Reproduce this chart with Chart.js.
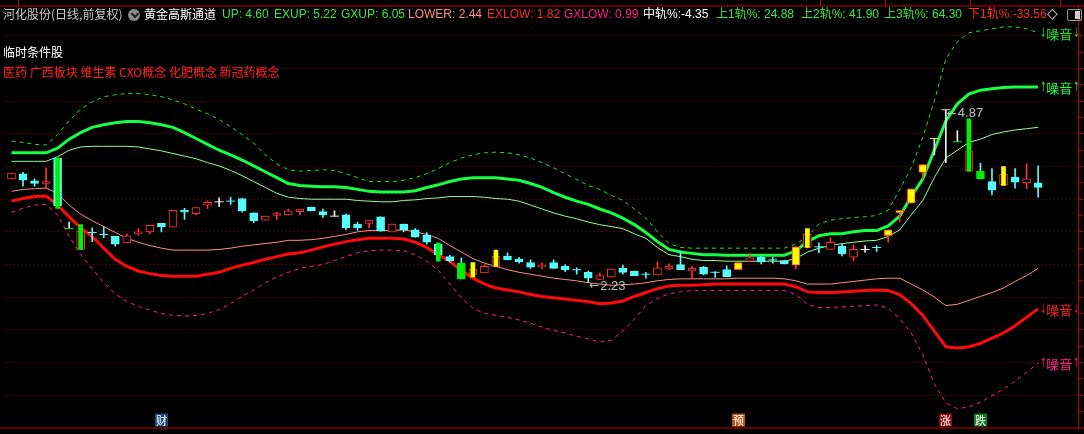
<!DOCTYPE html>
<html><head><meta charset="utf-8">
<script src="https://cdn.jsdelivr.net/npm/chart.js@4.4.1/dist/chart.umd.min.js"></script>
<style>
html,body{margin:0;padding:0;background:#000;}
#wrap{position:relative;width:1084px;height:434px;overflow:hidden;background:#000;}
#c{position:absolute;left:0;top:0;}
.t{position:absolute;top:7px;font:12px/14px "Liberation Sans","Noto Sans CJK SC",sans-serif;white-space:nowrap;}
.cn{font-family:"Noto Sans CJK SC",sans-serif;}
</style></head><body>
<div id="wrap">
<canvas id="c" width="1084" height="434"></canvas>
<div id="hdr"></div>
</div>
<script>
// ---- candles (daily OHLC) ----
const open = [3.81,3.89,3.78,3.74,4.13,3.05,2.73,2.99,2.96,2.93,
2.83,2.97,3.00,3.13,3.07,3.33,3.28,3.41,3.46,3.47,
3.51,3.29,3.18,3.25,3.26,3.31,3.38,3.31,3.24,3.26,
3.12,3.13,3.23,3.00,3.12,3.03,2.95,2.81,2.62,2.52,
2.34,2.37,2.47,2.63,2.58,2.53,2.46,2.53,2.47,2.42,
2.38,2.27,2.31,2.44,2.40,2.35,2.34,2.43,2.50,2.40,
2.46,2.38,2.42,2.42,2.55,2.61,2.57,2.56,2.49,2.76,
2.77,2.73,2.78,2.61,2.73,2.76,2.94,3.29,3.44,3.91,
4.43,4.87,4.38,3.93,3.93,3.77,3.72,3.84,3.75,3.75];
const high = [3.90,3.91,3.81,3.98,4.13,3.15,3.01,3.06,3.08,2.93,
2.97,3.05,3.10,3.13,3.33,3.36,3.37,3.47,3.52,3.53,
3.51,3.29,3.24,3.30,3.35,3.35,3.38,3.35,3.32,3.27,
3.15,3.18,3.23,3.12,3.12,3.05,2.99,2.81,2.64,2.60,
2.43,2.50,2.63,2.68,2.61,2.57,2.52,2.57,2.50,2.45,
2.40,2.37,2.43,2.49,2.40,2.38,2.54,2.51,2.71,2.47,
2.47,2.39,2.48,2.53,2.67,2.63,2.61,2.56,2.77,2.96,
2.83,2.91,2.81,2.80,2.79,2.79,3.03,3.33,3.66,4.03,
4.43,4.87,4.55,4.24,4.05,3.97,3.88,3.97,4.04,4.01];
const low = [3.81,3.70,3.70,3.67,3.40,3.05,2.73,2.85,2.91,2.78,
2.83,2.95,2.97,3.00,3.07,3.19,3.26,3.36,3.39,3.42,
3.30,3.14,3.18,3.19,3.26,3.26,3.32,3.22,3.24,3.03,
3.02,3.06,3.01,3.00,3.00,2.92,2.81,2.65,2.54,2.28,
2.34,2.37,2.47,2.57,2.52,2.44,2.44,2.44,2.39,2.35,
2.23,2.27,2.31,2.35,2.33,2.29,2.34,2.42,2.42,2.29,
2.34,2.30,2.31,2.42,2.55,2.51,2.52,2.51,2.43,2.76,
2.68,2.73,2.63,2.56,2.69,2.70,2.84,3.16,3.44,3.81,
4.18,4.06,4.38,3.93,3.81,3.57,3.72,3.67,3.66,3.53];
const close = [3.90,3.79,3.74,3.77,3.40,3.05,3.01,2.99,2.96,2.81,
2.94,3.00,3.10,3.08,3.33,3.30,3.37,3.45,3.46,3.47,
3.32,3.17,3.24,3.28,3.32,3.35,3.32,3.26,3.24,3.06,
3.06,3.18,3.01,3.12,3.03,2.92,2.84,2.65,2.56,2.28,
2.43,2.47,2.63,2.57,2.54,2.46,2.49,2.44,2.42,2.42,
2.29,2.33,2.43,2.38,2.33,2.35,2.45,2.47,2.42,2.44,
2.35,2.38,2.31,2.53,2.60,2.54,2.57,2.51,2.77,2.96,
2.77,2.84,2.66,2.73,2.73,2.76,3.03,3.33,3.66,4.03,
4.43,4.87,4.38,4.24,3.81,3.64,3.88,3.76,3.81,3.68];

// ---- 黄金高斯通道 lines ----
const upLine = [4.08,4.08,4.08,4.08,4.15,4.25,4.30,4.31,4.31,4.31,
4.31,4.30,4.27,4.24,4.20,4.16,4.12,4.06,4.01,3.94,
3.86,3.77,3.68,3.59,3.53,3.51,3.50,3.50,3.50,3.50,
3.48,3.47,3.46,3.46,3.48,3.49,3.51,3.52,3.54,3.54,
3.54,3.53,3.51,3.50,3.47,3.41,3.35,3.29,3.24,3.20,
3.15,3.11,3.08,3.05,2.97,2.90,2.76,2.65,2.62,2.58,
2.56,2.56,2.55,2.55,2.55,2.55,2.55,2.55,2.59,2.69,
2.75,2.79,2.82,2.84,2.86,2.87,2.93,3.03,3.26,3.48,
3.83,4.13,4.25,4.37,4.42,4.49,4.53,4.56,4.58,4.60];
const exUp = [4.21,4.21,4.21,4.21,4.28,4.42,4.52,4.60,4.64,4.67,
4.69,4.69,4.67,4.64,4.60,4.52,4.43,4.34,4.25,4.18,
4.10,4.01,3.92,3.83,3.74,3.71,3.70,3.69,3.69,3.68,
3.65,3.62,3.61,3.61,3.61,3.63,3.68,3.72,3.77,3.81,
3.83,3.83,3.83,3.81,3.79,3.74,3.68,3.60,3.53,3.47,
3.42,3.35,3.29,3.21,3.11,2.99,2.85,2.73,2.69,2.67,
2.65,2.65,2.64,2.64,2.64,2.64,2.64,2.64,2.71,2.85,
2.94,2.97,2.97,3.00,3.02,3.02,3.09,3.24,3.54,3.81,
4.25,4.70,4.96,5.11,5.17,5.19,5.21,5.22,5.22,5.22];
const gxUp = [4.39,4.37,4.34,4.33,4.49,4.70,4.88,4.99,5.07,5.10,
5.12,5.12,5.10,5.07,5.02,4.96,4.88,4.81,4.72,4.61,
4.49,4.36,4.18,4.04,3.95,3.93,3.94,3.95,3.94,3.89,
3.83,3.77,3.77,3.77,3.79,3.83,3.89,3.97,4.06,4.13,
4.18,4.21,4.22,4.21,4.18,4.13,4.06,3.98,3.89,3.80,
3.71,3.65,3.56,3.48,3.35,3.21,3.00,2.82,2.76,2.75,
2.75,2.75,2.75,2.75,2.75,2.75,2.75,2.75,2.81,2.93,
3.12,3.18,3.20,3.22,3.23,3.25,3.33,3.65,3.98,4.45,
5.00,5.65,5.91,6.05,6.08,6.11,6.14,6.14,6.11,6.05];
const lowerLine = [3.62,3.65,3.66,3.67,3.59,3.41,3.27,3.17,3.08,2.99,
2.90,2.84,2.79,2.75,2.72,2.72,2.72,2.72,2.73,2.75,
2.78,2.80,2.82,2.84,2.87,2.87,2.88,2.90,2.93,2.96,
3.00,3.02,3.02,3.02,3.03,3.00,2.96,2.90,2.79,2.69,
2.59,2.52,2.47,2.42,2.38,2.35,2.32,2.29,2.27,2.25,
2.22,2.20,2.18,2.19,2.20,2.22,2.25,2.27,2.28,2.28,
2.28,2.28,2.28,2.29,2.29,2.29,2.29,2.28,2.25,2.20,
2.20,2.20,2.22,2.24,2.26,2.28,2.29,2.29,2.20,2.11,
2.00,1.87,1.89,1.95,2.01,2.07,2.14,2.24,2.33,2.44];
const exLow = [3.47,3.51,3.54,3.55,3.41,3.23,3.06,2.93,2.75,2.58,
2.47,2.40,2.36,2.33,2.32,2.32,2.32,2.35,2.38,2.44,
2.49,2.53,2.58,2.62,2.66,2.68,2.72,2.77,2.81,2.85,
2.88,2.90,2.90,2.90,2.89,2.84,2.76,2.65,2.55,2.41,
2.29,2.20,2.14,2.11,2.08,2.04,2.01,1.99,1.97,1.95,
1.93,1.90,1.91,1.94,2.01,2.07,2.13,2.17,2.18,2.18,
2.19,2.20,2.20,2.20,2.20,2.20,2.20,2.20,2.16,2.08,
2.07,2.07,2.08,2.09,2.10,2.11,2.10,2.04,1.90,1.72,
1.48,1.24,1.22,1.24,1.29,1.37,1.45,1.56,1.69,1.82];
const gxLow = [3.30,3.36,3.41,3.42,3.26,2.93,2.65,2.44,2.22,2.05,
1.93,1.86,1.80,1.75,1.72,1.71,1.72,1.75,1.81,1.90,
2.01,2.11,2.22,2.31,2.38,2.44,2.47,2.50,2.56,2.62,
2.68,2.71,2.72,2.72,2.71,2.65,2.55,2.41,2.20,1.99,
1.83,1.75,1.72,1.69,1.65,1.60,1.54,1.49,1.45,1.40,
1.36,1.31,1.34,1.48,1.66,1.87,1.98,2.05,2.08,2.10,
2.10,2.10,2.10,2.10,2.10,2.10,2.10,2.10,2.04,1.89,
1.84,1.84,1.85,1.86,1.87,1.88,1.83,1.67,1.45,1.12,
0.67,0.38,0.29,0.32,0.39,0.49,0.59,0.71,0.85,0.99];

// ---- signals / flags ----
const greenSigIdx = [4,6,37,83];
const greenSigLo  = [3.36,2.73,2.55,3.93];
const greenSigHi  = [4.13,3.11,2.83,4.73];
const yellowSigIdx = [40,42,69,86];
const yellowSigLo  = [2.31,2.47,2.76,3.71];
const yellowSigHi  = [2.53,2.72,3.05,4.00];
const yellowBodyIdx = [63,68,76,77,78,79];
const greenBodyIdx = [39,84];
const whiteDojiIdx = [5,18,28,74,80,81,82];
const eventIdx  = [13,63,81,84];
const eventText = ['财','预','涨','跌'];
const pctNames  = ['中轨%','上1轨%','上2轨%','上3轨%','下1轨%'];
const pctValues = [-4.35,24.88,41.90,64.30,-33.56];
const yTicks = [0.25,0.5,0.75,1,1.25,1.5,1.75,2,2.25,2.5,2.75,3,3.25,3.5,3.75,4,4.25,4.5,4.75,5,5.25,5.5,5.75,6,6.25];

// ---- styles ----
const C_RED='#FF3232', C_CYAN='#54FCFC', C_YEL='#FFFF00', C_GRN='#00F000', C_WHITE='#F0F0F0';
const T_GREEN='#3CE63C';
const dojiTickOverride = {5:C_GRN, 80:'#E6E600', 81:'#E6E6A0', 82:C_GRN};
const eventBg = ['#1B4C80','#B85418','#8A1010','#137A1E'];

const N = close.length;
const bodies=[], bodyBg=[], bodyBd=[], wicks=[], wickCol=[], dojis=[], dojiCol=[];
for (let i=0;i<N;i++){
  const o=open[i], c=close[i];
  const isY=yellowBodyIdx.includes(i), isG=greenBodyIdx.includes(i), doji=(o===c);
  let wc;
  if (doji) wc = whiteDojiIdx.includes(i)?C_WHITE:C_CYAN;
  else if (isY) wc = C_RED;
  else if (isG) wc = C_CYAN;
  else wc = c>o?C_RED:C_CYAN;
  if (high[i]>low[i]) { wicks.push({x:i,y:[low[i],high[i]]}); wickCol.push(wc); }
  if (doji) { dojis.push({x:i,y:c}); dojiCol.push(dojiTickOverride[i]||wc); }
  else {
    bodies.push({x:i,y:[Math.min(o,c),Math.max(o,c)]});
    if (isY){bodyBg.push(C_YEL);bodyBd.push(C_RED);}
    else if (isG){bodyBg.push(C_GRN);bodyBd.push(C_GRN);}
    else if (c>o){bodyBg.push('#000000');bodyBd.push(C_RED);}
    else {bodyBg.push(C_CYAN);bodyBd.push(C_CYAN);}
  }
}
const greenSig = greenSigIdx.map((x,k)=>({x, y:[greenSigLo[k],greenSigHi[k]]}));
const yellowSig = yellowSigIdx.map((x,k)=>({x, y:[yellowSigLo[k],yellowSigHi[k]]}));
const toXY = a => a.map((v,i)=>({x:i,y:v}));

// ---- header (HTML text) ----
const fmt = v => v.toFixed(2);
const pct = (n,v) => n + ':' + (v<0 ? fmt(v) : ' ' + fmt(v));
const hdrItems = [
  {x:3,   t:'河化股份(日线,前复权)', c:'#C8C8C8', cn:1},
  {x:144, t:'黄金高斯通道', c:'#FFFFFF', cn:1},
  {x:222, t:'UP: '+fmt(upLine[N-1]), c:T_GREEN},
  {x:274, t:'EXUP: '+fmt(exUp[N-1]), c:T_GREEN},
  {x:341, t:'GXUP: '+fmt(gxUp[N-1]), c:T_GREEN},
  {x:408, t:'LOWER: '+fmt(lowerLine[N-1]), c:'#FF8A8A'},
  {x:487, t:'EXLOW: '+fmt(exLow[N-1]), c:'#FF2A2A'},
  {x:564, t:'GXLOW: '+fmt(gxLow[N-1]), c:'#FF1E8C'},
  {x:643, t:pct(pctNames[0],pctValues[0]), c:'#FFFFFF'},
  {x:716, t:pct(pctNames[1],pctValues[1]), c:T_GREEN},
  {x:801, t:pct(pctNames[2],pctValues[2]), c:T_GREEN},
  {x:884, t:pct(pctNames[3],pctValues[3]), c:T_GREEN},
  {x:968, t:pct(pctNames[4],pctValues[4]), c:'#FF2A2A', w:79}
];
const hdr = document.getElementById('hdr');
let html='';
for (const h of hdrItems){
  html += `<div class="t${h.cn?' cn':''}" style="left:${h.x}px;color:${h.c};${h.w?'width:'+h.w+'px;overflow:hidden;':''}">${h.t}</div>`;
}
html += `<div style="position:absolute;left:128px;top:9px;width:12px;height:12px;border-radius:50%;background:#8A8A8A;"><div style="position:absolute;left:3.5px;top:2px;width:4px;height:4px;border-right:2px solid #222;border-bottom:2px solid #222;transform:rotate(45deg);"></div></div>`;
html += `<div style="position:absolute;left:1047px;top:5px;font:14px 'DejaVu Sans';color:#DDDDDD;">◇</div>`;
html += `<div style="position:absolute;left:1067px;top:9px;width:13px;height:10px;border:1.5px solid #9A9A9A;border-radius:2px;"><div style="position:absolute;right:1px;top:1px;width:5px;height:8px;background:#CFCFCF;"></div></div>`;
html += `<div class="t cn" style="top:45px;left:3px;color:#FFFFFF;">临时条件股</div>`;
html += `<div class="t cn" style="top:65px;left:3px;color:#FF2020;">医药 广西板块 维生素 CXO概念 化肥概念 新冠药概念</div>`;
hdr.innerHTML = html;

// ---- decorations plugin ----
const deco = {
  id:'deco',
  afterDatasetsDraw(ch){
    const {ctx, chartArea:a, scales:{x:xs, y:ys}} = ch;
    ctx.save();
    ctx.strokeStyle='#C80000'; ctx.lineWidth=1;
    ctx.beginPath();
    ctx.moveTo(0,a.top+0.5); ctx.lineTo(1084,a.top+0.5);
    ctx.moveTo(0,a.bottom-0.5); ctx.lineTo(1084,a.bottom-0.5);
    for (const tx of [18,820,885,970,1060]) { ctx.moveTo(tx+0.5,0); ctx.lineTo(tx+0.5,a.top); }
    ctx.stroke();

    // noise labels at end of band lines
    const noise = [[gxUp,'↓','#1EE61E'],[exUp,'↑','#14FF46'],[exLow,'↓','#FF1A1A'],[gxLow,'↑','#FF1E8C']];
    ctx.textBaseline='middle';
    const arrow = (ch2,x,y)=>{ ctx.save(); ctx.translate(x,y); ctx.scale(0.55,1); ctx.font='13px "DejaVu Sans"'; ctx.fillText(ch2,0,1); ctx.restore(); };
    for (const [arr,ar,col] of noise){
      let x = xs.getPixelForValue(N-1)+2;
      const y = ys.getPixelForValue(arr[N-1]);
      ctx.fillStyle=col;
      arrow(ar,x,y); x+=6;
      ctx.font='13px "Noto Sans CJK SC"';
      ctx.fillText('噪音',x,y+1);
      x+=ctx.measureText('噪音').width+1;
      arrow(ar,x,y);
    }

    // high / low price marks
    let lo=0, hi=0;
    for (let i=0;i<N;i++){ if(low[i]<low[lo]) lo=i; if(high[i]>high[hi]) hi=i; }
    ctx.fillStyle='#C0C0C0';
    for (const [i,v] of [[lo,low[lo]],[hi,high[hi]]]){
      const x = xs.getPixelForValue(i)+1, y = ys.getPixelForValue(v)+4;
      ctx.font='12px "DejaVu Sans"'; ctx.fillText('←',x,y);
      ctx.font='13px "Liberation Sans"'; ctx.fillText(fmt(v),x+11,y);
    }

    // event markers at bottom
    ctx.textAlign='center';
    eventIdx.forEach((i,k)=>{
      const cx = xs.getPixelForValue(i);
      ctx.fillStyle=eventBg[k];
      ctx.fillRect(Math.round(cx-6.5), a.bottom-15, 13, 13);
      ctx.fillStyle='#FFFFFF';
      ctx.font='11px "Noto Sans CJK SC"';
      ctx.fillText(eventText[k], Math.round(cx-6.5)+6.5, a.bottom-8);
    });
    ctx.restore();
  }
};

new Chart(document.getElementById('c'), {
  type:'bar',
  data:{datasets:[
    {type:'line', data:toXY(gxUp), borderColor:'#1EE61E', borderWidth:1, borderDash:[4,4], pointRadius:0, order:20},
    {type:'line', data:toXY(upLine), borderColor:'#96FF96', borderWidth:1, pointRadius:0, order:20},
    {type:'line', data:toXY(exUp), borderColor:'#14FF46', borderWidth:3, pointRadius:0, order:19},
    {type:'line', data:toXY(lowerLine), borderColor:'#FF8C8C', borderWidth:1, pointRadius:0, order:20},
    {type:'line', data:toXY(exLow), borderColor:'#FF0A0A', borderWidth:3, pointRadius:0, order:19},
    {type:'line', data:toXY(gxLow), borderColor:'#FF1E8C', borderWidth:1, borderDash:[4,4], pointRadius:0, order:20},
    {type:'bar', data:wicks, backgroundColor:wickCol, barThickness:1, grouped:false, order:5},
    {type:'bar', data:bodies, backgroundColor:bodyBg, borderColor:bodyBd, borderWidth:1, borderSkipped:false, barThickness:8, grouped:false, order:4},
    {type:'scatter', data:dojis, pointStyle:'line', pointRadius:4.5, pointBorderColor:dojiCol, pointBorderWidth:1, order:3},
    {type:'bar', data:greenSig, backgroundColor:C_GRN, barThickness:4, grouped:false, order:2},
    {type:'bar', data:yellowSig, backgroundColor:C_YEL, barThickness:4, grouped:false, order:2}
  ]},
  options:{
    responsive:false, animation:false, devicePixelRatio:1, events:[],
    layout:{padding:{top:3,bottom:1,left:0,right:0}},
    plugins:{legend:{display:false}, tooltip:{enabled:false}},
    scales:{
      x:{type:'linear', min:-0.5168, max:92.5, offset:false, display:false},
      y:{position:'right', min:-0.0127, max:6.467,
        afterFit(s){ s.width=4; },
        afterBuildTicks(s){ s.ticks = yTicks.map(v=>({value:v})); },
        ticks:{display:false},
        grid:{color:c=> (Math.round(c.tick.value*100)%50===0)?'#A00000':'rgba(0,0,0,0)', tickColor:'#C00000', tickLength:4, lineWidth:1, drawTicks:true},
        border:{display:true, color:'#C00000', dash:[1,3]}
      }
    }
  },
  plugins:[deco]
});
</script>
</body></html>
